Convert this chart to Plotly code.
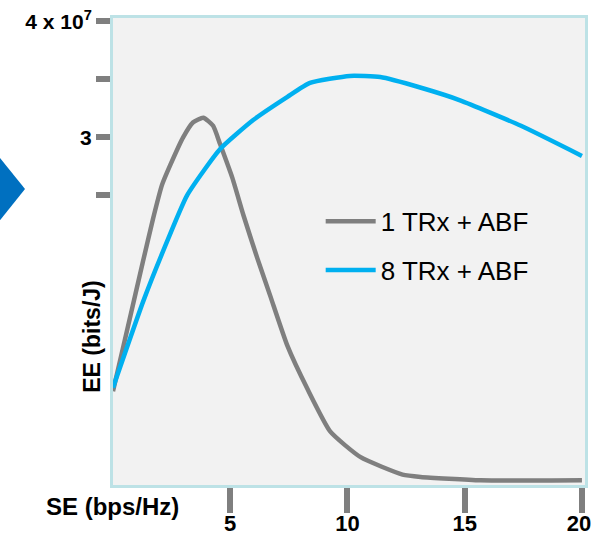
import plotly.graph_objects as go

# spectral efficiency (bps/Hz) vs energy efficiency (x 1e7 bits/J)
se_1trx = [0, 0.64, 1.28, 1.71, 2.09, 2.44, 2.99, 3.42, 3.85, 4.27, 4.57, 5.09, 5.56,
           6.15, 6.71, 7.44, 8.29, 9.27, 10.56, 12.35, 13.12, 15.68, 20]
ee_1trx = [0.81, 1.37, 1.93, 2.30, 2.59, 2.76, 3.00, 3.13, 3.17, 3.10, 2.94, 2.65, 2.33,
           1.96, 1.63, 1.20, 0.83, 0.46, 0.24, 0.09, 0.07, 0.04, 0.04]

se_8trx = [0, 1.28, 2.14, 3.16, 4.57, 5.98, 7.44, 8.4, 10.1, 11.4, 13.1, 14.8, 17.4, 20]
ee_8trx = [0.84, 1.58, 2.02, 2.50, 2.90, 3.15, 3.35, 3.47, 3.53, 3.52, 3.43, 3.32, 3.10, 2.84]

x_ticks = [5, 10, 15, 20]
x_tick_text = ["5", "10", "15", "20\u00a0"]  # nbsp nudges the last label inside the page
y_ticks = [2.5, 3, 3.5, 4]
y_tick_text = ["", "3", "", "4 x 10<sup>7</sup>"]

FONT = "Arial, Liberation Sans, sans-serif"
GRAY = "#7f7f7f"
BLUE = "#00b0f0"
BORDER = "#bde2e6"

fig = go.Figure()

fig.add_trace(go.Scatter(
    x=se_1trx, y=ee_1trx, mode="lines", name="1 TRx + ABF",
    line=dict(color=GRAY, width=4.5, shape="spline", smoothing=0.5),
    legendgroup="a",
))
fig.add_trace(go.Scatter(
    x=se_8trx, y=ee_8trx, mode="lines", name="8 TRx + ABF",
    line=dict(color=BLUE, width=4.5, shape="spline", smoothing=0.5),
    legendgroup="b",
))

fig.update_xaxes(
    range=[0, 20.13], showgrid=False, zeroline=False, automargin=False,
    showline=True, mirror=True, linecolor=BORDER, linewidth=3,
    tickvals=x_ticks, ticktext=x_tick_text,
    ticks="outside", ticklen=25, tickwidth=6, tickcolor=GRAY,
    ticklabelstandoff=-8, ticklabeloverflow="allow",
    tickfont=dict(family=FONT, size=22, color="black", weight="bold"),
)
fig.update_yaxes(
    range=[0, 4.03], showgrid=False, zeroline=False, automargin=False,
    showline=True, mirror=True, linecolor=BORDER, linewidth=3,
    tickvals=y_ticks, ticktext=y_tick_text,
    ticks="outside", ticklen=14, tickwidth=6, tickcolor=GRAY,
    tickfont=dict(family=FONT, size=21, color="black", weight="bold"),
)

# axis titles placed like the slide
fig.add_annotation(text="SE (bps/Hz)", xref="paper", yref="paper",
                   x=-0.002, y=-0.047, xanchor="center", yanchor="middle",
                   showarrow=False,
                   font=dict(family=FONT, size=24, color="black", weight="bold"))
fig.add_annotation(text="EE (bits/J)", xref="paper", yref="paper",
                   x=-0.045, y=0.317, xanchor="center", yanchor="middle",
                   textangle=-90, showarrow=False,
                   font=dict(family=FONT, size=23, color="black", weight="bold"))

# blue arrow glyph at the left edge of the slide
fig.add_shape(type="path", xref="paper", yref="paper",
              path="M -0.2394,0.700 L -0.1864,0.634 L -0.2394,0.567 Z",
              fillcolor="#0070c0", line=dict(width=0))

fig.update_layout(
    width=592, height=540,
    margin=dict(l=113, r=7, t=18, b=55),
    paper_bgcolor="white", plot_bgcolor="#f2f2f2",
    font=dict(family=FONT, color="black"),
    showlegend=True,
    legend=dict(x=0.44, y=0.615, xanchor="left", yanchor="top",
                bgcolor="rgba(0,0,0,0)", font=dict(family=FONT, size=26),
                tracegroupgap=12, itemwidth=50),
)

# page has a default 8px body margin; drop it so the figure sits at the corner
fig.write_html("out.html", config={"displayModeBar": False},
               post_script="document.body.style.margin='0';")
